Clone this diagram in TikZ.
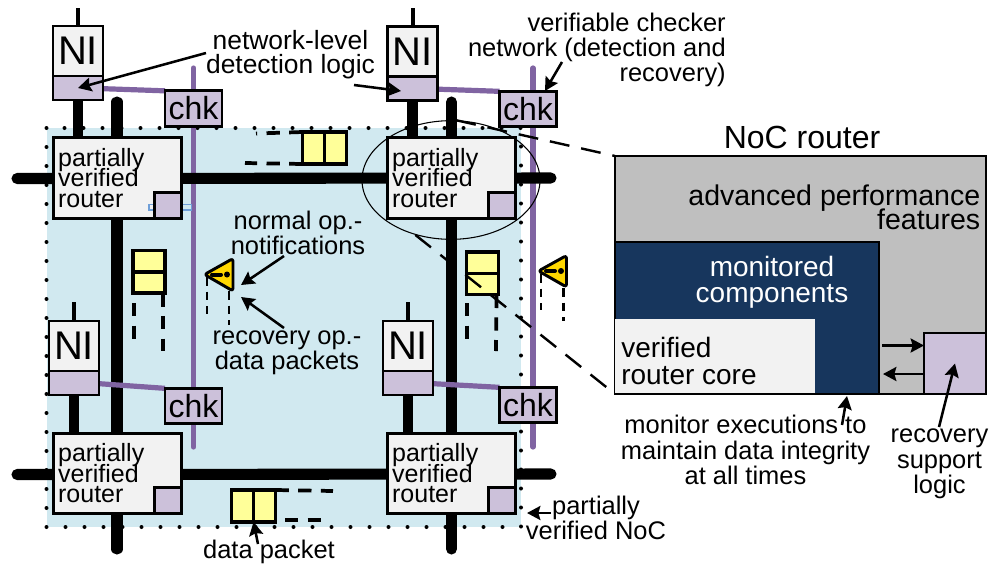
\documentclass[tikz,border=0pt]{standalone}
\usepackage{fontspec}
\setmainfont{Liberation Sans}
\usetikzlibrary{arrows.meta,shapes.geometric,backgrounds}
\definecolor{bgblue}{HTML}{D1E9F0}
\definecolor{lightfill}{HTML}{F2F2F2}
\definecolor{lilac}{HTML}{CCC1DA}
\definecolor{wirep}{HTML}{8064A2}
\definecolor{pkty}{HTML}{FFFF99}
\definecolor{warny}{HTML}{FFD700}
\definecolor{navy}{HTML}{17365D}
\definecolor{panelgrey}{HTML}{BFBFBF}
\definecolor{glitch}{HTML}{6F9FD8}
\lineskiplimit=-100pt
\normallineskiplimit=-100pt
\tikzset{
  x=0.75pt,y=-0.75pt,
  rectbox/.style={draw=black,line width=2.2pt,inner sep=0pt,outer sep=0pt},
  txt/.style={font=\fontsize{19.1}{19}\selectfont,inner sep=0pt,align=center},
  router/.style={rectbox,fill=lightfill,text width=89pt,inner xsep=3.5pt,minimum height=60.5pt,align=left,
     font=\fontsize{18.75}{15.4}\selectfont,execute at begin node={\lineskiplimit=-100pt\relax}},
  mini/.style={rectbox,fill=lilac,minimum width=20.25pt,minimum height=19.5pt,anchor=south east},
  nibox/.style={rectbox,fill=lightfill,minimum width=37.5pt,minimum height=37.5pt,anchor=north,font=\fontsize{30}{30}\selectfont},
  nilow/.style={rectbox,fill=lilac,minimum width=37.5pt,minimum height=18pt,anchor=north},
  chkbox/.style={rectbox,fill=lilac,minimum width=42.75pt,minimum height=26.5pt,font=\fontsize{24}{24}\selectfont},
  cellh/.style={draw=black,line width=2.7pt,fill=pkty,inner sep=0pt,outer sep=0pt,minimum width=16.5pt,minimum height=24pt},
  cellv/.style={draw=black,line width=2.7pt,fill=pkty,inner sep=0pt,outer sep=0pt,minimum width=24pt,minimum height=16pt},
  thick wire/.style={line width=8.3pt,line cap=round},
  ni wire/.style={line width=7.8pt},
  thin wire/.style={line width=3pt},
  pwire/.style={draw=wirep,line width=3.9pt,line cap=round},
  pktdash/.style={line width=2.8pt,dash pattern=on 10pt off 7pt},
  warndash/.style={line width=2pt,dash pattern=on 6.5pt off 4.5pt},
  warnshape/.style={draw=black,line width=2.2pt,fill=warny,rounded corners=2pt,line join=round},
  zoomdash/.style={line width=1.8pt,dash pattern=on 15pt off 9pt},
  callout/.style={line width=1.9pt,-{Stealth[length=10pt,width=10.5pt,inset=1.5pt]}},
}
\begin{document}
\begin{tikzpicture}
\useasboundingbox (0,0) rectangle (993,565);

% routers
\node[router] (r1) at (117.5,178) {partially\\verified\\router};
\node[router] (r2) at (451.5,178) {partially\\verified\\router};
\node[router] (r3) at (117.5,473.5) {partially\\verified\\router};
\node[router] (r4) at (451.5,473.5) {partially\\verified\\router};

% thin rectangle visible in the original
\draw[glitch,line width=0.8pt] (149,204.5) rectangle (191.5,210);

\node[mini] (m1) at (r1.south east) {};
\node[mini] (m2) at (r2.south east) {};
\node[mini] (m3) at (r3.south east) {};
\node[mini] (m4) at (r4.south east) {};

% network interfaces
\node[nibox] (n1) at (78,26) {NI};
\node[nilow] (nl1) at (n1.south) {};
\node[nibox] (n2) at (412.5,26.5) {NI};
\node[nilow] (nl2) at (n2.south) {};
\node[nibox] (n3) at (74,321) {NI};
\node[nilow] (nl3) at (n3.south) {};
\node[nibox] (n4) at (408,321) {NI};
\node[nilow] (nl4) at (n4.south) {};

% checkers
\node[chkbox] (c1) at (193.5,108.5) {chk};
\node[chkbox] (c2) at (528,109) {chk};
\node[chkbox] (c3) at (193.5,406) {chk};
\node[chkbox] (c4) at (528,405) {chk};

% free wire ends
\coordinate (p1t) at (193.5,68);
\coordinate (p1b) at (193.5,447);
\coordinate (p2t) at (533,68);
\coordinate (p2b) at (533,447);
\coordinate (v1t) at (117,102);
\coordinate (v1b) at (117,549);
\coordinate (v2t) at (451.5,102);
\coordinate (v2b) at (451.5,549);
\coordinate (h1l) at (17,178.5);
\coordinate (h1r) at (551,178);
\coordinate (h2l) at (17,474.5);
\coordinate (h2r) at (551,474);
\coordinate (t1) at (78,8);
\coordinate (t2) at (412.5,8);
\coordinate (t3) at (74,302);
\coordinate (t4) at (408,302);

\begin{pgfonlayer}{background}
  \fill[bgblue] (46.5,128) rectangle (521,527);
  \draw[black,line width=3pt,line cap=round,dash pattern=on 0pt off 14.25pt]
     (46.5,128) rectangle (521,527);
  \draw[pwire] (p1t) -- (p1b);
  \draw[pwire] (p2t) -- (p2b);
  \draw[thick wire] (v1t) -- (v1b);
  \draw[thick wire] (v2t) -- (v2b);
  \draw[thick wire] (h1l) -- (h1r);
  \draw[thick wire] (h2l) -- (h2r);
  \draw[ni wire] (nl1.south) -- (r1.north -| nl1.south);
  \draw[ni wire] (nl2.south) -- (r2.north -| nl2.south);
  \draw[ni wire] (nl3.south) -- (r3.north -| nl3.south);
  \draw[ni wire] (nl4.south) -- (r4.north -| nl4.south);
  \draw[thin wire] (t1) -- (n1.north);
  \draw[thin wire] (t2) -- (n2.north);
  \draw[thin wire] (t3) -- (n3.north);
  \draw[thin wire] (t4) -- (n4.north);
  \draw[pwire,line cap=butt] ([yshift=-0.5pt]nl1.east) -- (c1.north west);
  \draw[pwire,line cap=butt] ([yshift=-0.5pt]nl2.east) -- (c2.north west);
  \draw[pwire,line cap=butt] ([yshift=-0.5pt]nl3.east) -- (c3.north west);
  \draw[pwire,line cap=butt] ([yshift=-0.5pt]nl4.east) -- (c4.north west);
\end{pgfonlayer}

% packets
\node[cellh,anchor=north west] (pa1) at (302.5,132) {};
\node[cellh,anchor=west] (pa2) at (pa1.east) {};
\coordinate (pa1u) at (256,133.5);
\coordinate (pa1d) at (245,163);
\draw[pktdash] (pa1.north west) -- (pa1u);
\draw[pktdash] (pa1.south west) -- (pa1d);

\node[cellv,anchor=north west] (pb1) at (133,250.5) {};
\node[cellv,anchor=north] (pb2) at (pb1.south) {};
\coordinate (pb1a) at (134,303);
\coordinate (pb1a2) at (134,340);
\coordinate (pb1b) at (163,351);
\draw[pktdash] (pb1a) -- (pb1a2);
\draw[pktdash] (pb2.south east) ++(-2,0) -- (pb1b);

\node[cellv,anchor=north west] (pc1) at (466.5,252) {};
\node[cellv,anchor=north] (pc2) at (pc1.south) {};
\coordinate (pc1a) at (467,303);
\coordinate (pc1a2) at (467,340);
\coordinate (pc1b) at (496,351);
\draw[pktdash] (pc1a) -- (pc1a2);
\draw[pktdash] (pc2.south east) ++(-2,0) -- (pc1b);

\node[cellh,anchor=north west] (pd1) at (231.5,490) {};
\node[cellh,anchor=west] (pd2) at (pd1.east) {};
\coordinate (pd1u) at (333,491);
\coordinate (pd1s) at (285,520);
\coordinate (pd1d) at (323,520);
\draw[pktdash] (pd2.north east) -- (pd1u);
\draw[pktdash] (pd1s) -- (pd1d);

% warning triangles
\coordinate (wa) at (204.5,274.5);
\coordinate (wb) at (233,258.5);
\coordinate (wc) at (233,291);
\draw[warnshape] (wa) -- (wb) -- (wc) -- cycle;
\draw[line width=3pt,line cap=round] (212,274.5) -- (221,274.5);
\fill (227,274.5) circle[radius=3];
\coordinate (wa2) at (207,314);
\coordinate (wc2) at (229,325);
\draw[warndash] (207,277) -- (wa2);
\draw[warndash] (229,291) -- (wc2);

\coordinate (xa) at (538.5,271);
\coordinate (xb) at (566.5,255.5);
\coordinate (xc) at (566.5,287);
\draw[warnshape] (xa) -- (xb) -- (xc) -- cycle;
\draw[line width=3pt,line cap=round] (546,271) -- (555,271);
\fill (561,271) circle[radius=3];
\coordinate (xa2) at (541,310);
\coordinate (xc2) at (563.5,321);
\draw[warndash] (541,274) -- (xa2);
\draw[warndash] (563.5,288) -- (xc2);

% NoC router panel
\node[rectbox,fill=panelgrey,anchor=north west,minimum width=278.25pt,minimum height=178.5pt] (panel) at (615,156) {};
\node[rectbox,fill=navy,anchor=south west,minimum width=198pt,minimum height=114pt] (mon) at (panel.south west) {};
\node[inner sep=0pt,outer sep=0pt,fill=lightfill,anchor=south west,minimum width=150pt,minimum height=55.5pt] (core) at ([yshift=0.5pt]panel.south west) {};
\node[txt,align=left,anchor=west,font=\fontsize{21}{20.3}\selectfont] (corel) at (621,361) {verified\\router core};
\node[rectbox,fill=lilac,anchor=south east,minimum width=46.5pt,minimum height=45.75pt] (rec) at (panel.south east) {};
\draw[callout] (882,345.5) -- (rec.west |- 0,345.5);
\draw[callout] (rec.west |- 0,374) -- (883,374);

\node[txt,font=\fontsize{24}{24}\selectfont] (title) at (802,137) {NoC router};
\node[txt,font=\fontsize{21.4}{18}\selectfont,align=right,anchor=east] (adv) at (980.5,207) {advanced performance\\features};
\node[txt,font=\fontsize{21}{19.2}\selectfont,text=white] (monl) at (772,282) {monitored\\components};

% ellipse and zoom lines
\node[draw=black,line width=0.8pt,ellipse,inner sep=0pt,minimum width=133.5pt,minimum height=89pt] (zoomring) at (451,180) {};
\draw[zoomdash] (zoomring.85) -- (panel.north west);
\draw[zoomdash] (zoomring.237) -- (panel.south west);

% labels
\node[txt,font=\fontsize{19.8}{18}\selectfont] (l1) at (290.5,55) {network-level\\detection logic};
\node[txt,align=right,anchor=east] (l2) at (726,50) {verifiable checker\\network (detection and\\recovery)};
\node[txt] (l3) at (298,233) {normal op.-\\notifications};
\node[txt] (l4) at (287,353) {recovery op.-\\data packets};
\node[txt] (l5) at (269,551.5) {data packet};
\node[txt] (l6) at (596,518) {partially\\verified NoC};
\node[txt] (l7) at (745.5,450) {monitor executions to\\maintain data integrity\\at all times};
\node[txt] (l8) at (939.5,464) {recovery\\support\\logic};

% callouts
\coordinate (a1s) at (206,53);
\coordinate (a2s) at (354,85);
\coordinate (a3s) at (562,62);
\coordinate (a4s) at (284,256);
\coordinate (a5s) at (284,328);
\coordinate (a6s) at (258,544);
\coordinate (a7s) at (551,513);
\coordinate (a8s) at (842,425);
\coordinate (a9s) at (939,427);
\coordinate (a4e) at (241,285);
\coordinate (a5e) at (241,297);
\draw[callout] (a1s) -- (nl1.center);
\draw[callout] (a2s) -- (401,91);
\draw[callout] (a3s) -- (545,91);
\draw[callout] (a4s) -- (a4e);
\draw[callout] (a5s) -- (a5e);
\draw[callout] (a6s) -- (pd1.south east);
\draw[callout] (a7s) -- (527,513);
\draw[callout] (a8s) -- (847,396);
\draw[callout] (a9s) -- (rec.center);
\end{tikzpicture}
\end{document}
